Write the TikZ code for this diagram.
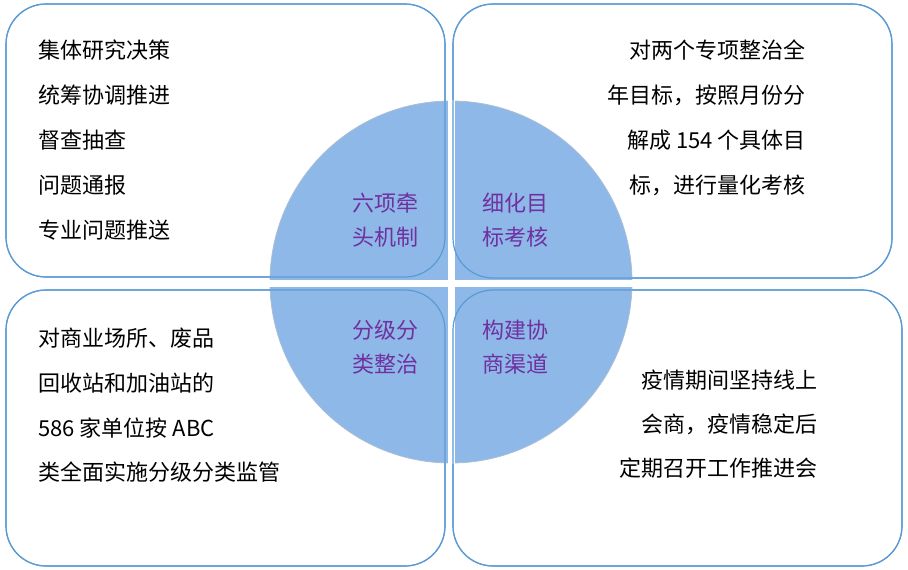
\documentclass[tikz,border=0pt]{standalone}
\usepackage{fontspec}
\setmainfont{Noto Sans CJK SC}
\begin{document}
\begin{tikzpicture}[x=1pt,y=-1pt,
  box/.style={draw=boxblue,line width=1.2pt,rounded corners=40pt},
  txt/.style={font=\fontsize{22}{26}\selectfont,inner sep=0pt},
  lbl/.style={font=\fontsize{22}{26}\selectfont,text=labpurple,inner sep=0pt,align=center}]
\definecolor{boxblue}{HTML}{5B9BD5}
\definecolor{circblue}{HTML}{8DB8E8}
\definecolor{labpurple}{HTML}{7030A0}
\useasboundingbox (0,0) rectangle (908,570);
\path[box,fill=white] (6,4) rectangle (445,277);
\path[box,fill=white] (453,4) rectangle (892,278);
\path[box,fill=white] (6,290) rectangle (445,566);
\path[box,fill=white] (453,290) rectangle (902,566);
\fill[circblue,draw=circblue!80!black!60,line width=0.8pt] (451,282) circle (181);
\draw[white,line width=7pt] (451,100) -- (451,464);
\draw[white,line width=7pt] (269,283) -- (633,283);
\draw[box] (6,4) rectangle (445,277);
\draw[box] (453,4) rectangle (892,278);
\draw[box] (6,290) rectangle (445,566);
\draw[box] (453,290) rectangle (902,566);
\node[txt,anchor=west] (a1) at (38,50) {集体研究决策};
\node[txt,anchor=west] (a2) at (38,95) {统筹协调推进};
\node[txt,anchor=west] (a3) at (38,140) {督查抽查};
\node[txt,anchor=west] (a4) at (38,185) {问题通报};
\node[txt,anchor=west] (a5) at (38,230) {专业问题推送};
\node[txt,anchor=east] (b1) at (806,50) {对两个专项整治全};
\node[txt,anchor=east] (b2) at (806,95) {年目标，按照月份分};
\node[txt,anchor=east] (b3) at (806,140) {解成 154 个具体目};
\node[txt,anchor=east] (b4) at (806,185) {标，进行量化考核};
\node[txt,anchor=west] (c1) at (38,338) {对商业场所、废品};
\node[txt,anchor=west] (c2) at (38,383) {回收站和加油站的};
\node[txt,anchor=west] (c3) at (38,428) {586 家单位按 ABC};
\node[txt,anchor=west] (c4) at (38,472) {类全面实施分级分类监管};
\node[txt,anchor=east] (d1) at (818,380) {疫情期间坚持线上};
\node[txt,anchor=east] (d2) at (818,424) {会商，疫情稳定后};
\node[txt,anchor=east] (d3) at (818,468) {定期召开工作推进会};
\node[lbl] (l1) at (385,220) {六项牵\\[8pt]头机制};
\node[lbl] (l2) at (515,220) {细化目\\[8pt]标考核};
\node[lbl] (l3) at (385,347) {分级分\\[8pt]类整治};
\node[lbl] (l4) at (515,347) {构建协\\[8pt]商渠道};
\end{tikzpicture}
\end{document}
